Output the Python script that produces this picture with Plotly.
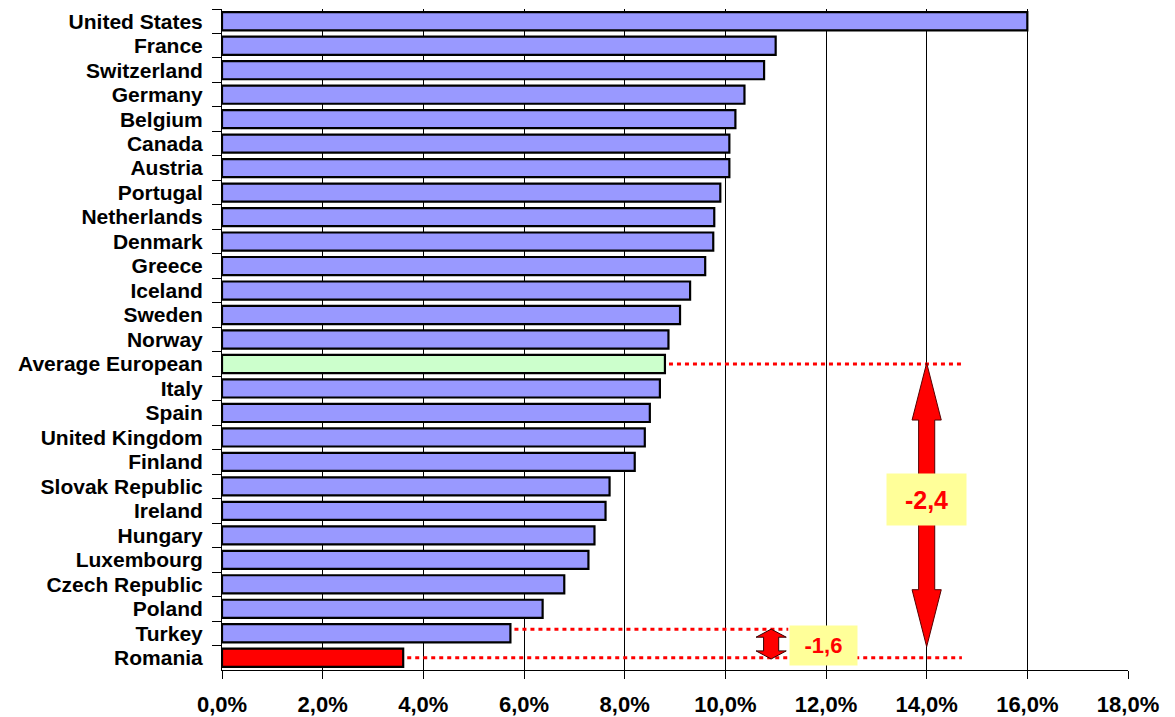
import plotly.graph_objects as go

countries = ["United States", "France", "Switzerland", "Germany", "Belgium", "Canada",
             "Austria", "Portugal", "Netherlands", "Denmark", "Greece", "Iceland",
             "Sweden", "Norway", "Average European", "Italy", "Spain", "United Kingdom",
             "Finland", "Slovak Republic", "Ireland", "Hungary", "Luxembourg",
             "Czech Republic", "Poland", "Turkey", "Romania"]
values = [16.0, 11.0, 10.77, 10.38, 10.2, 10.08, 10.08, 9.9, 9.78, 9.76, 9.6, 9.3,
          9.1, 8.87, 8.8, 8.7, 8.5, 8.4, 8.2, 7.7, 7.62, 7.4, 7.28, 6.8, 6.37, 5.73, 3.6]
x_tickvals = [0, 2, 4, 6, 8, 10, 12, 14, 16, 18]
x_ticktext = ["0,0%", "2,0%", "4,0%", "6,0%", "8,0%", "10,0%", "12,0%", "14,0%", "16,0%", "18,0%"]
gap_labels = ["-2,4", "-1,6"]

BLUE = "#9999FF"
GREEN = "#CCFFCC"
RED = "#FF0000"
FONT = "Arial, Liberation Sans, sans-serif"

colors = []
for c in countries:
    if c == "Average European":
        colors.append(GREEN)
    elif c == "Romania":
        colors.append(RED)
    else:
        colors.append(BLUE)

fig = go.Figure(go.Bar(
    x=values, y=countries, orientation="h",
    marker=dict(color=colors, line=dict(color="black", width=2.2)),
    hoverinfo="x+y",
))

i_avg = countries.index("Average European")
i_tur = countries.index("Turkey")
i_rom = countries.index("Romania")
v_avg = values[i_avg]
v_tur = values[i_tur]
v_rom = values[i_rom]

shapes = []
dot = dict(color=RED, width=3, dash="4px,4px")
# dotted reference lines
shapes.append(dict(type="line", xref="x", yref="y", x0=v_avg + 0.08, x1=14.7,
                   y0=i_avg, y1=i_avg, line=dot, layer="above"))
shapes.append(dict(type="line", xref="x", yref="y", x0=v_tur + 0.08, x1=11.25,
                   y0=i_tur - 0.16, y1=i_tur - 0.16, line=dot, layer="above"))
shapes.append(dict(type="line", xref="x", yref="y", x0=v_rom + 0.08, x1=14.7,
                   y0=i_rom, y1=i_rom, line=dot, layer="above"))


def double_arrow(xc, y_top, y_bot, head_len, head_hw, shaft_hw):
    pts = [(xc, y_top), (xc + head_hw, y_top + head_len), (xc + shaft_hw, y_top + head_len),
           (xc + shaft_hw, y_bot - head_len), (xc + head_hw, y_bot - head_len), (xc, y_bot),
           (xc - head_hw, y_bot - head_len), (xc - shaft_hw, y_bot - head_len),
           (xc - shaft_hw, y_top + head_len), (xc - head_hw, y_top + head_len)]
    return "M " + " L ".join(f"{x},{y}" for x, y in pts) + " Z"


shapes.append(dict(type="path", xref="x", yref="y",
                   path=double_arrow(14.0, i_avg - 0.04, i_rom - 0.45, 2.33, 0.29, 0.16),
                   fillcolor=RED, line=dict(color="#550000", width=1), layer="above"))
shapes.append(dict(type="path", xref="x", yref="y",
                   path=double_arrow(10.91, i_tur - 0.17, i_rom + 0.05, 0.33, 0.30, 0.15),
                   fillcolor=RED, line=dict(color="#330000", width=1), layer="above"))

annotations = [
    dict(x=14.0, y=19.54, xref="x", yref="y", text="<b>" + gap_labels[0] + "</b>",
         showarrow=False, bgcolor="#FFFF99", width=77, height=49,
         font=dict(family=FONT, size=25, color=RED)),
    dict(x=11.95, y=25.5, xref="x", yref="y", text="<b>" + gap_labels[1] + "</b>",
         showarrow=False, bgcolor="#FFFF99", width=65, height=37,
         font=dict(family=FONT, size=22, color=RED)),
]

fig.update_layout(
    width=1175, height=717,
    margin=dict(l=214, r=55, t=1, b=55, autoexpand=False),
    paper_bgcolor="white", plot_bgcolor="white",
    bargap=0.26, showlegend=False,
    shapes=shapes, annotations=annotations,
    font=dict(family=FONT, color="black"),
    xaxis=dict(range=[0, 18], tickvals=x_tickvals, ticktext=x_ticktext,
               showgrid=True, gridcolor="black", gridwidth=1,
               showline=True, linecolor="black", linewidth=1,
               ticks="outside", ticklen=8, tickcolor="black",
               ticklabelstandoff=7,
               tickfont=dict(family=FONT, size=22, color="black", weight="bold"),
               zeroline=False, fixedrange=True, automargin=False),
    yaxis=dict(type="category", categoryorder="array", categoryarray=countries,
               autorange="reversed", tickson="boundaries",
               tickmode="linear", tick0=0, dtick=1,
               showline=True, linecolor="black", linewidth=1,
               ticks="outside", ticklen=9, tickcolor="black", showgrid=False,
               ticklabelstandoff=14,
               tickfont=dict(family=FONT, size=21, color="black", weight="bold"),
               fixedrange=True, automargin=False),
)

fig.write_html("out.html")
